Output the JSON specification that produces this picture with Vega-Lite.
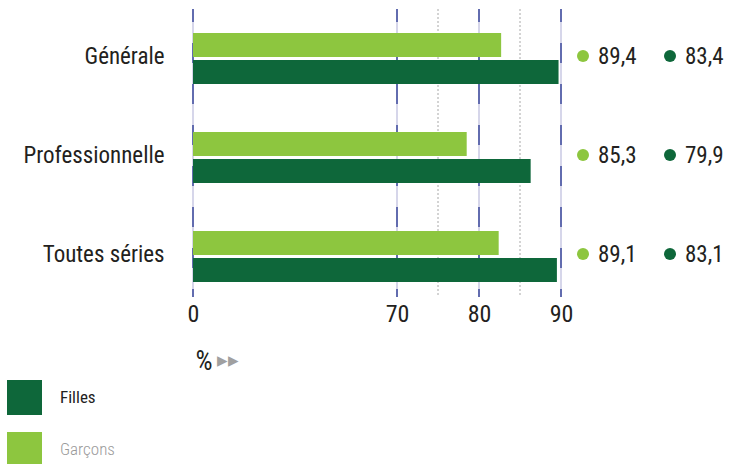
{
  "$schema": "https://vega.github.io/schema/vega-lite/v6.json",
  "width": 537,
  "height": 288,
  "autosize": {"type": "none"},
  "padding": {"left": 193, "top": 9, "right": 0, "bottom": 167},
  "background": "white",
  "config": {"view": {"stroke": null}, "font": "Roboto Condensed"},
  "datasets": {
    "barres": [
      {"cat": "Générale", "sexe": "Garçons", "v": 82.7},
      {"cat": "Générale", "sexe": "Filles", "v": 89.7},
      {"cat": "Professionnelle", "sexe": "Garçons", "v": 78.5},
      {"cat": "Professionnelle", "sexe": "Filles", "v": 86.3},
      {"cat": "Toutes séries", "sexe": "Garçons", "v": 82.4},
      {"cat": "Toutes séries", "sexe": "Filles", "v": 89.5}
    ],
    "grille": [{"v": 0}, {"v": 70}, {"v": 80}, {"v": 90}],
    "pointilles": [{"v": 75}, {"v": 85}],
    "etiquettes": [
      {"cat": "Générale", "colonne": "gauche", "teinte": "clair", "texte": "89,4"},
      {"cat": "Générale", "colonne": "droite", "teinte": "foncé", "texte": "83,4"},
      {"cat": "Professionnelle", "colonne": "gauche", "teinte": "clair", "texte": "85,3"},
      {"cat": "Professionnelle", "colonne": "droite", "teinte": "foncé", "texte": "79,9"},
      {"cat": "Toutes séries", "colonne": "gauche", "teinte": "clair", "texte": "89,1"},
      {"cat": "Toutes séries", "colonne": "droite", "teinte": "foncé", "texte": "83,1"}
    ]
  },
  "layer": [
    {
      "encoding": {
        "x": {
          "field": "v",
          "type": "quantitative",
          "scale": {"domain": [0, 70, 90], "range": [0, 204, 368], "nice": false, "zero": false},
          "axis": {
            "values": [0, 70, 80, 90],
            "domain": false,
            "ticks": false,
            "tickSize": 0,
            "grid": false,
            "labelFontSize": 24,
            "labelColor": "#231f20",
            "labelPadding": 5,
            "labelFont": "Roboto Condensed",
            "labelFlush": false,
            "labelOverlap": false,
            "title": "%",
            "titleFont": "Roboto Condensed",
            "titleFontSize": 27,
            "titleFontWeight": "normal",
            "titleColor": "#231f20",
            "titleAnchor": "start",
            "titleAlign": "left",
            "titleBaseline": "middle",
            "titleX": 2,
            "titleY": 64
          }
        }
      },
      "layer": [
        {
          "data": {"name": "grille"},
          "mark": {"type": "rule", "color": "#c9c9e3", "strokeWidth": 1.5}
        },
        {
          "data": {"name": "grille"},
          "mark": {"type": "rule", "color": "#3d4a9c", "strokeWidth": 1.5, "strokeDash": [20, 21], "strokeDashOffset": 7}
        },
        {
          "data": {"name": "pointilles"},
          "mark": {"type": "rule", "color": "#a8a8a8", "strokeWidth": 1, "strokeDash": [2, 2]}
        },
        {
          "data": {"name": "barres"},
          "mark": {"type": "bar"},
          "encoding": {
            "y": {
              "field": "cat",
              "type": "nominal",
              "sort": ["Générale", "Professionnelle", "Toutes séries"],
              "scale": {"range": [0, 297], "paddingInner": 0.4848, "paddingOuter": 0.2424},
              "axis": {
                "title": null,
                "domain": false,
                "ticks": false,
                "labelFontSize": 23,
                "labelColor": "#231f20",
                "labelPadding": 29,
                "labelFont": "Roboto Condensed",
                "labelOffset": -2
              }
            },
            "yOffset": {
              "field": "sexe",
              "type": "nominal",
              "sort": ["Garçons", "Filles"],
              "scale": {"paddingInner": 0.111, "paddingOuter": 0}
            },
            "color": {
              "field": "sexe",
              "type": "nominal",
              "scale": {"domain": ["Filles", "Garçons"], "range": ["#0e673a", "#8dc63f"]},
              "legend": {
                "orient": "none",
                "legendX": -186,
                "legendY": 371,
                "title": null,
                "symbolType": "square",
                "symbolSize": 1225,
                "symbolStrokeWidth": 0,
                "labelFont": "Roboto Condensed",
                "labelFontSize": 17,
                "labelOffset": 18,
                "rowPadding": 17,
                "encode": {
                  "labels": {
                    "update": {
                      "fill": {"signal": "datum.label === 'Filles' ? '#222222' : '#9a9a9a'"},
                      "fontWeight": {"signal": "datum.label === 'Filles' ? 400 : 300"}
                    }
                  }
                }
              }
            }
          }
        }
      ]
    },
    {
      "data": {"name": "etiquettes"},
      "encoding": {
        "x": {
          "field": "colonne",
          "type": "nominal",
          "scale": {"type": "point", "domain": ["gauche", "droite"], "range": [390, 477], "padding": 0},
          "axis": {
            "orient": "bottom",
            "labels": false,
            "ticks": false,
            "domain": false,
            "grid": false,
            "title": "▸▸",
            "titleColor": "#a0a0a0",
            "titleFontSize": 21,
            "titleFontWeight": "normal",
            "titleAnchor": "start",
            "titleAlign": "left",
            "titleBaseline": "middle",
            "titleX": 23,
            "titleY": 63
          }
        },
        "y": {
          "field": "cat",
          "type": "nominal",
          "sort": ["Générale", "Professionnelle", "Toutes séries"],
          "axis": {
            "title": null,
            "domain": false,
            "ticks": false,
            "labelFontSize": 23,
            "labelColor": "#231f20",
            "labelPadding": 29,
            "labelFont": "Roboto Condensed",
            "labelOffset": -2
          }
        }
      },
      "layer": [
        {
          "mark": {"type": "point", "filled": true, "size": 144, "opacity": 1, "yOffset": -2.5},
          "encoding": {
            "color": {
              "field": "teinte",
              "type": "nominal",
              "scale": {"domain": ["clair", "foncé"], "range": ["#8dc63f", "#0e673a"]},
              "legend": null
            }
          }
        },
        {
          "mark": {"type": "text", "align": "left", "baseline": "middle", "dx": 15, "dy": -2, "fontSize": 23, "color": "#231f20", "font": "Roboto Condensed"},
          "encoding": {"text": {"field": "texte"}}
        }
      ]
    }
  ],
  "resolve": {"scale": {"x": "independent", "color": "independent"}, "axis": {"x": "independent"}}
}
